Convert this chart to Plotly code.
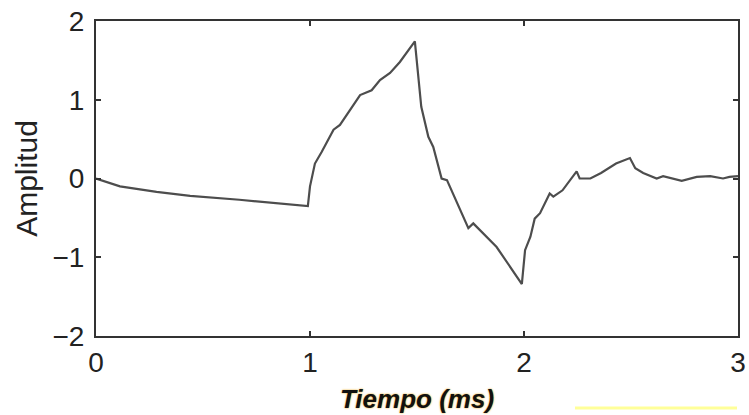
import plotly.graph_objects as go

# Data
tiempo_ms = [0.0, 0.112, 0.283, 0.44, 0.67, 0.844, 0.99, 1.0, 1.023, 1.055, 1.11, 1.14,
             1.234, 1.288, 1.327, 1.374, 1.42, 1.49, 1.506, 1.52, 1.553, 1.576, 1.615,
             1.64, 1.74, 1.763, 1.872, 1.99, 2.005, 2.03, 2.05, 2.075, 2.12, 2.137, 2.18,
             2.246, 2.26, 2.31, 2.36, 2.43, 2.495, 2.52, 2.557, 2.62, 2.65, 2.737, 2.807,
             2.87, 2.93, 2.96, 3.0]
amplitud = [0.0, -0.10, -0.17, -0.22, -0.27, -0.31, -0.35, -0.10, 0.19, 0.34, 0.62, 0.68,
            1.06, 1.12, 1.25, 1.34, 1.48, 1.74, 1.25, 0.91, 0.53, 0.40, 0.00,
            -0.02, -0.63, -0.57, -0.87, -1.34, -0.91, -0.74, -0.51, -0.44, -0.19, -0.23, -0.15,
            0.09, 0.00, 0.00, 0.07, 0.19, 0.26, 0.13, 0.07, 0.00, 0.03, -0.03, 0.02,
            0.03, 0.00, 0.02, 0.03]

x_ticks = [0, 1, 2, 3]
y_ticks = [-2, -1, 0, 1, 2]

FONT = "Liberation Sans, Arial, Helvetica, sans-serif"

fig = go.Figure()
fig.add_trace(go.Scatter(
    x=tiempo_ms, y=amplitud, mode="lines",
    line=dict(color="#4d4d4d", width=2.2),
    showlegend=False, hoverinfo="skip",
))

axis_common = dict(
    showgrid=False, zeroline=False, automargin=False,
    showline=True, linecolor="#333333", linewidth=2, mirror="ticks",
    ticks="inside", ticklen=5, tickwidth=1.5, tickcolor="#333333",
    tickfont=dict(family=FONT, size=28, color="#222222"),
)

fig.update_xaxes(
    range=[0, 3], tickvals=x_ticks, ticktext=[str(v) for v in x_ticks],
    ticklabelstandoff=0,
    title=dict(text="<b><i>Tiempo (ms)</i></b>", standoff=13,
               font=dict(family=FONT, size=26, color="#111111",
                         shadow="0px 0px 2px #e8a000")),
    **axis_common,
)
fig.update_yaxes(
    range=[-2, 2], tickvals=y_ticks, ticktext=[str(v).replace("-", "\u2212") for v in y_ticks],
    ticklabelstandoff=4,
    title=dict(text="Amplitud", standoff=6,
               font=dict(family=FONT, size=30, color="#222222")),
    **axis_common,
)

fig.add_shape(type="line", xref="paper", yref="paper",
              x0=(575 - 96) / 642, x1=(737 - 96) / 642,
              y0=-(408 - 336) / 315, y1=-(408 - 336) / 315,
              line=dict(color="#ffff99", width=3))

fig.update_layout(
    width=749, height=415,
    margin=dict(l=96, r=11, t=21, b=79),
    paper_bgcolor="white", plot_bgcolor="white",
    font=dict(family=FONT),
)

fig.write_html("out.html")
